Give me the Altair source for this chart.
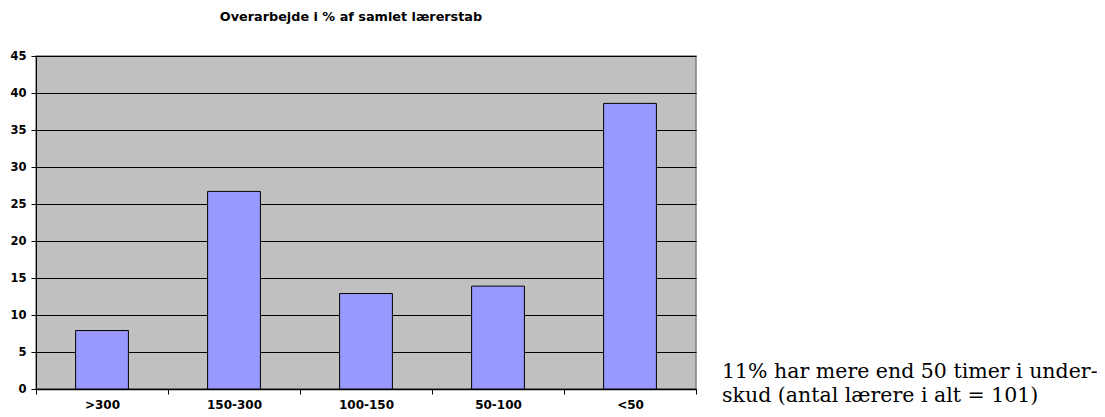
import altair as alt
import pandas as pd

categories = [">300", "150-300", "100-150", "50-100", "<50"]
values = [7.9, 26.7, 12.9, 13.9, 38.6]
y_ticks = [0, 5, 10, 15, 20, 25, 30, 35, 40, 45]
title_text = "Overarbejde i % af samlet lærerstab"
note_lines = ["11% har mere end 50 timer i under-", "skud (antal lærere i alt = 101)"]

df = pd.DataFrame({"cat": categories, "val": values})
one = pd.DataFrame({"k": [0]})

bars = alt.Chart(df).mark_bar(
    color="#9999FF", stroke="#000000", strokeWidth=1,
    width=alt.RelativeBandSize(0.4)
).encode(
    x=alt.X("cat:N", sort=categories, title=None,
            scale=alt.Scale(paddingInner=0, paddingOuter=0),
            axis=alt.Axis(labelAngle=0, ticks=True, tickBand="extent", tickSize=5,
                          tickWidth=1, tickColor="#000000", domainColor="#000000",
                          domainWidth=1.5,
                          labelFont="DejaVu Sans", labelFontWeight="bold",
                          labelFontSize=12, labelColor="#000000",
                          labelPadding=5, grid=False)),
    y=alt.Y("val:Q", title=None,
            scale=alt.Scale(domain=[0, 45], nice=False),
            axis=alt.Axis(values=y_ticks, tickSize=5, tickColor="#000000",
                          domainColor="#000000", gridColor="#000000",
                          gridOpacity=1, gridWidth=1,
                          labelFont="DejaVu Sans", labelFontWeight="bold",
                          labelFontSize=11.5, labelColor="#000000",
                          labelPadding=5)),
)

title = alt.Chart(one).mark_text(
    text=title_text, font="DejaVu Sans", fontWeight="bold", fontSize=12.8,
    color="#000000", align="center", baseline="alphabetic"
).encode(x=alt.value(315), y=alt.value(-35))

note = alt.Chart(one).mark_text(
    text=note_lines, font="DejaVu Serif", fontSize=20.5, lineHeight=24,
    color="#000000", align="left", baseline="alphabetic"
).encode(x=alt.value(686), y=alt.value(322))

chart = alt.layer(bars, title, note).properties(
    width=660, height=333,
    autosize=alt.AutoSizeParams(type="none"),
    padding={"left": 28, "top": 48, "right": 401, "bottom": 40},
).configure_view(
    fill="#C0C0C0", stroke="#808080", strokeWidth=1.5
)

chart.save("out.html", embed_options={"renderer": "svg", "actions": False})
